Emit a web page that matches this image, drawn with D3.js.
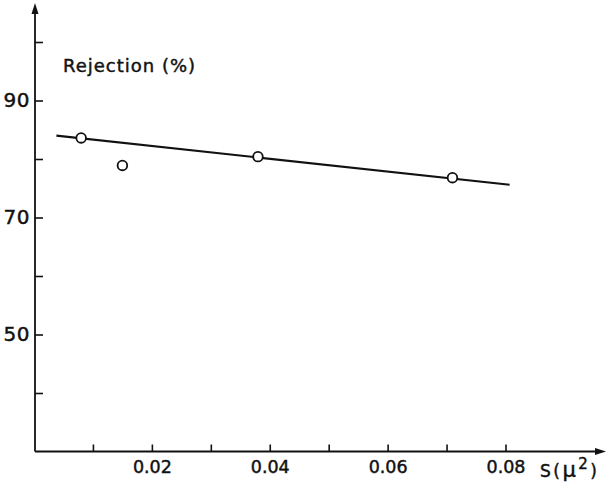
<!DOCTYPE html>
<html>
<head>
<meta charset="utf-8">
<script src="https://cdn.jsdelivr.net/npm/d3@7"></script>
<style>
  body { margin: 0; background: #fff; }
  svg text { font-family: 'DejaVu Sans', sans-serif; fill: #111; stroke: #111; stroke-width: 0.45; }
</style>
</head>
<body>
<svg id="chart"></svg>
<script>
// data
const pointsX = [0.008, 0.015, 0.038, 0.071]
const pointsY = [83.6, 78.9, 80.4, 76.8]
const fitX = [0.0038, 0.0807]
const fitY = [84.0, 75.6]
const xTicks = [0.01, 0.02, 0.03, 0.04, 0.05, 0.06, 0.07, 0.08]
const xLabels = [0.02, 0.04, 0.06, 0.08]
const yTicks = [40, 50, 60, 70, 80, 90, 100]
const yLabels = [50, 70, 90]

const width = 609, height = 485
const svg = d3.select("#chart").attr("width", width).attr("height", height)

const x = d3.scaleLinear().domain([0, 0.08]).range([34, 505.5])
const y = d3.scaleLinear().domain([30, 90]).range([451.5, 100.5])
const x0 = 35, y0 = y(30)

// axis lines with arrow heads
svg.append("line").attr("x1", x0).attr("y1", y0).attr("x2", x0).attr("y2", 10)
  .attr("stroke", "#111").attr("stroke-width", 1.8)
svg.append("path").attr("d", `M${x0},3 L${x0 - 3.5},14 L${x0 + 3.5},14 Z`).attr("fill", "#111")
svg.append("line").attr("x1", x0).attr("y1", y0).attr("x2", 598).attr("y2", y0)
  .attr("stroke", "#111").attr("stroke-width", 1.8)
svg.append("path").attr("d", `M606,${y0} L595,${y0 - 3.5} L595,${y0 + 3.5} Z`).attr("fill", "#111")

const yAxis = d3.axisLeft(y)
  .tickValues(yTicks)
  .tickSizeInner(-8).tickSizeOuter(0).tickPadding(5)
  .tickFormat(d => yLabels.includes(d) ? d : "")
svg.append("g").attr("transform", `translate(${x0},0)`).call(yAxis)
  .call(g => g.select(".domain").remove())
  .call(g => g.selectAll(".tick line").attr("stroke", "#111").attr("stroke-width", 1.6))
  .call(g => g.selectAll(".tick text").attr("font-size", 20).attr("font-family", "'DejaVu Sans', sans-serif")
    .attr("fill", "#111").attr("letter-spacing", 0.5))

const xAxis = d3.axisBottom(x)
  .tickValues(xTicks)
  .tickSizeInner(-7).tickSizeOuter(0).tickPadding(9)
  .tickFormat(d => xLabels.includes(d) ? d3.format(".2f")(d) : "")
svg.append("g").attr("transform", `translate(0,${y0})`).call(xAxis)
  .call(g => g.select(".domain").remove())
  .call(g => g.selectAll(".tick line").attr("stroke", "#111").attr("stroke-width", 1.6))
  .call(g => g.selectAll(".tick text").attr("font-size", 17.5).attr("font-family", "'DejaVu Sans', sans-serif").attr("fill", "#111"))

// axis titles
svg.append("text").attr("x", 63).attr("y", 72)
  .attr("font-size", 18).attr("letter-spacing", 1)
  .text("Rejection (%)")

const xt = svg.append("text").attr("x", 540).attr("y", 477)
  .attr("font-size", 17).attr("letter-spacing", 2.5)
xt.append("tspan").text("S(")
xt.append("tspan").attr("font-size", 21).text("μ")
xt.append("tspan").attr("dy", -8).attr("font-size", 15).text("2")
xt.append("tspan").attr("dy", 8).text(")")

// fitted line
svg.append("line")
  .attr("x1", x(fitX[0])).attr("y1", y(fitY[0]))
  .attr("x2", x(fitX[1])).attr("y2", y(fitY[1]))
  .attr("stroke", "#111").attr("stroke-width", 2.2)

// measured points
svg.append("g").selectAll("circle")
  .data(pointsX.map((d, i) => [d, pointsY[i]]))
  .join("circle")
  .attr("cx", d => x(d[0])).attr("cy", d => y(d[1]))
  .attr("r", 4.8)
  .attr("fill", "#fff").attr("stroke", "#111").attr("stroke-width", 1.8)
</script>
</body>
</html>
